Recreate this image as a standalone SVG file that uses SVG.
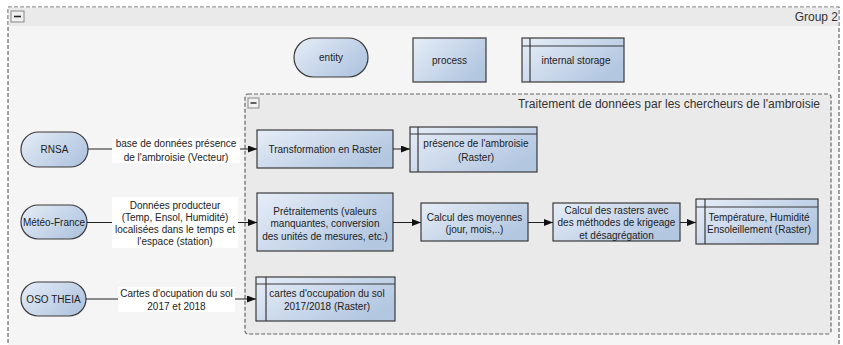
<svg xmlns="http://www.w3.org/2000/svg" width="843" height="345" viewBox="0 0 843 345">
<style>
  text { font-family: "Liberation Sans", Arial, sans-serif; fill: #222; }
  .n { font-size: 10px; text-anchor: middle; }
  .g { font-size: 12px; text-anchor: end; fill: #333; }
  .box { fill: url(#grad); stroke: #3a3a3a; stroke-width: 1.2; }
  .sep { fill: none; stroke: #3a3a3a; stroke-width: 1.2; }
  .lbl { fill: #ffffff; stroke: none; }
  .edge { fill: none; stroke: #222; stroke-width: 1; marker-end: url(#arr); }
  .grp { stroke: #666; stroke-width: 1.2; stroke-dasharray: 4 2; }
  .col { fill: #f0f0f0; stroke: #888; stroke-width: 1; }
</style>
<defs>
  <linearGradient id="grad" x1="0" y1="0" x2="1" y2="0.6">
    <stop offset="0" stop-color="#e6edf7"/>
    <stop offset="1" stop-color="#b3c7e1"/>
  </linearGradient>
  <marker id="arr" viewBox="0 0 9 7" refX="9" refY="3.5" markerWidth="9" markerHeight="7" markerUnits="userSpaceOnUse" orient="auto">
    <path d="M0,0 L9,3.5 L0,7 z" fill="#111"/>
  </marker>
</defs>

<g id="group2">
  <rect class="grp" x="8" y="7" width="831" height="342" fill="#f5f5f5"/>
  <rect x="8.6" y="7.6" width="829.8" height="18.4" fill="#eaeaea"/>
  <rect class="col" x="11" y="11" width="13" height="11"/>
  <line x1="14" y1="16.5" x2="21" y2="16.5" stroke="#222" stroke-width="1.6"/>
  <text class="g" x="838" y="21">Group 2</text>
</g>

<g id="legend-entity">
  <rect class="box" x="294" y="38" width="74" height="39" rx="19.5" ry="19.5"/>
  <text class="n" x="331" y="61">entity</text>
</g>
<g id="legend-process">
  <rect class="box" x="413" y="38" width="73" height="44"/>
  <text class="n" x="449.5" y="63.5">process</text>
</g>
<g id="legend-storage">
  <rect class="box" x="522" y="38" width="102" height="44"/>
  <line class="sep" x1="530" y1="38" x2="530" y2="82"/>
  <line class="sep" x1="522" y1="46" x2="624" y2="46"/>
  <text class="n" x="576" y="63.5">internal storage</text>
</g>

<g id="group-traitement">
  <rect class="grp" x="245" y="94" width="586" height="240" rx="3" fill="#eaeaea"/>
  <rect class="col" x="248" y="98" width="11" height="10"/>
  <line x1="250.5" y1="103" x2="256.5" y2="103" stroke="#222" stroke-width="1.4"/>
  <text class="g" x="820" y="108">Traitement de données par les chercheurs de l'ambroisie</text>
</g>

<g id="rnsa">
  <rect class="box" x="21" y="132" width="67" height="35" rx="17.5" ry="17.5"/>
  <text class="n" x="54.5" y="153">RNSA</text>
</g>
<g id="meteo">
  <rect class="box" x="21" y="205" width="66" height="34" rx="17" ry="17"/>
  <text class="n" x="54" y="225.5">Météo-France</text>
</g>
<g id="oso">
  <rect class="box" x="21" y="282" width="65" height="34" rx="17" ry="17"/>
  <text class="n" x="53.5" y="302.5">OSO THEIA</text>
</g>

<g id="transformation">
  <rect class="box" x="257" y="130" width="136" height="38"/>
  <text class="n" x="325" y="152.5">Transformation en Raster</text>
</g>
<g id="presence-raster">
  <rect class="box" x="410" y="127" width="127" height="45"/>
  <line class="sep" x1="418" y1="127" x2="418" y2="172"/>
  <line class="sep" x1="410" y1="134" x2="537" y2="134"/>
  <text class="n" x="476" y="147">présence de l'ambroisie</text>
  <text class="n" x="476" y="160.5">(Raster)</text>
</g>

<g id="pretraitements">
  <rect class="box" x="257" y="193" width="136" height="58"/>
  <text class="n" x="325" y="214.5">Prétraitements (valeurs</text>
  <text class="n" x="325" y="227">manquantes, conversion</text>
  <text class="n" x="325" y="239.5">des unités de mesures, etc.)</text>
</g>
<g id="moyennes">
  <rect class="box" x="421" y="203" width="107" height="38"/>
  <text class="n" x="474.5" y="220.5">Calcul des moyennes</text>
  <text class="n" x="474.5" y="232.5">(jour, mois,..)</text>
</g>
<g id="krigeage">
  <rect class="box" x="553" y="203" width="127" height="38"/>
  <text class="n" x="616.5" y="213.5">Calcul des rasters avec</text>
  <text class="n" x="616.5" y="226">des méthodes de krigeage</text>
  <text class="n" x="616.5" y="238.5">et désagrégation</text>
</g>
<g id="temperature-raster">
  <rect class="box" x="696" y="199" width="122" height="45"/>
  <line class="sep" x1="705" y1="199" x2="705" y2="244"/>
  <line class="sep" x1="696" y1="207" x2="818" y2="207"/>
  <text class="n" x="759" y="220.5">Température, Humidité</text>
  <text class="n" x="759" y="232.5">Ensoleillement (Raster)</text>
</g>

<g id="occupation-raster">
  <rect class="box" x="256" y="277" width="139" height="44"/>
  <line class="sep" x1="266" y1="277" x2="266" y2="321"/>
  <line class="sep" x1="256" y1="284" x2="395" y2="284"/>
  <text class="n" x="327" y="296.5">cartes d'occupation du sol</text>
  <text class="n" x="327" y="309.5">2017/2018 (Raster)</text>
</g>

<g id="connectors">
  <line class="edge" x1="88" y1="149" x2="257" y2="149"/>
  <line class="edge" x1="393" y1="149" x2="410" y2="149"/>
  <line class="edge" x1="87" y1="222.5" x2="257" y2="222.5"/>
  <line class="edge" x1="393" y1="222.5" x2="421" y2="222.5"/>
  <line class="edge" x1="528" y1="222.5" x2="553" y2="222.5"/>
  <line class="edge" x1="680" y1="222.5" x2="696" y2="222.5"/>
  <line class="edge" x1="86" y1="299" x2="256" y2="299"/>
  <g id="edge-labels">
    <rect class="lbl" x="112" y="138" width="128" height="25"/>
    <text class="n" x="176" y="147">base de données présence</text>
    <text class="n" x="176" y="160.5">de l'ambroisie (Vecteur)</text>
    <rect class="lbl" x="112" y="197" width="126" height="51"/>
    <text class="n" x="175" y="208.5">Données producteur</text>
    <text class="n" x="175" y="220.8">(Temp, Ensol, Humidité)</text>
    <text class="n" x="175" y="233.1">localisées dans le temps et</text>
    <text class="n" x="175" y="245.4">l'espace (station)</text>
    <rect class="lbl" x="118" y="287" width="117" height="25"/>
    <text class="n" x="176.5" y="296.5">Cartes d'ocupation du sol</text>
    <text class="n" x="176.5" y="309.5">2017 et 2018</text>
  </g>
</g>
</svg>
